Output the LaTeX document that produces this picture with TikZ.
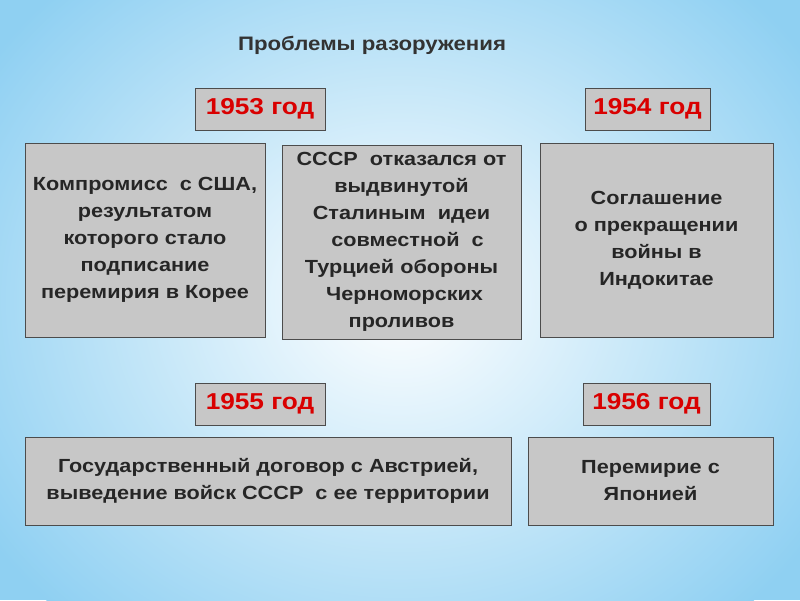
\documentclass[tikz,border=0pt]{standalone}
\usepackage{fontspec}
\setmainfont{Liberation Sans}[FakeStretch=1.14]
\begin{document}
\begin{tikzpicture}[x=1pt,y=-1pt,
  box/.style={draw=black!70,line width=1pt,fill=black!22,align=center,font=\bfseries\fontsize{19}{27}\selectfont,text=black!85,inner sep=0pt},
  yr/.style={draw=black!70,line width=1pt,fill=black!22,font=\bfseries\fontsize{23}{26}\selectfont,text=red!85!black,inner sep=0pt}]
\useasboundingbox (0,0) rectangle (800,600);
\definecolor{bgb}{HTML}{8FD0F2}
\fill[bgb] (0,0) rectangle (800,600);
\begin{scope}
\clip (0,0) rectangle (800,600);
\shade[inner color=white,outer color=bgb,xscale=1.15] (348,300) circle (430);
\end{scope}
\node (title) at (372,45) {\bfseries\fontsize{19.5}{22}\selectfont\color{black!80}Проблемы разоружения};
\node[yr,minimum width=130,minimum height=42] (y53) at (260,109) {1953 год};
\node[yr,minimum width=125,minimum height=42] (y54) at (647.5,109) {1954 год};
\node[box,minimum width=240,minimum height=194] (b1) at (145,240) {Компромисс \ с США,\\результатом\\которого стало\\подписание\\перемирия в Корее};
\node[box,minimum width=239,minimum height=194] (b2) at (401.5,242) {СССР \ отказался от\\выдвинутой\\Сталиным \ идеи\\\ \ совместной \ с\\Турцией обороны\\\ Черноморских\\проливов};
\node[box,minimum width=233,minimum height=194] (b3) at (656.5,240) {Соглашение\\о прекращении\\войны в\\Индокитае};
\node[yr,minimum width=130,minimum height=42] (y55) at (260,404) {1955 год};
\node[yr,minimum width=127,minimum height=42] (y56) at (646.5,404) {1956 год};
\node[box,minimum width=486,minimum height=88] (b4) at (268,481) {Государственный договор с Австрией,\\выведение войск СССР \ с ее территории};
\node[box,minimum width=245,minimum height=88] (b5) at (650.5,481) {Перемирие с\\Японией};
\end{tikzpicture}
\end{document}
